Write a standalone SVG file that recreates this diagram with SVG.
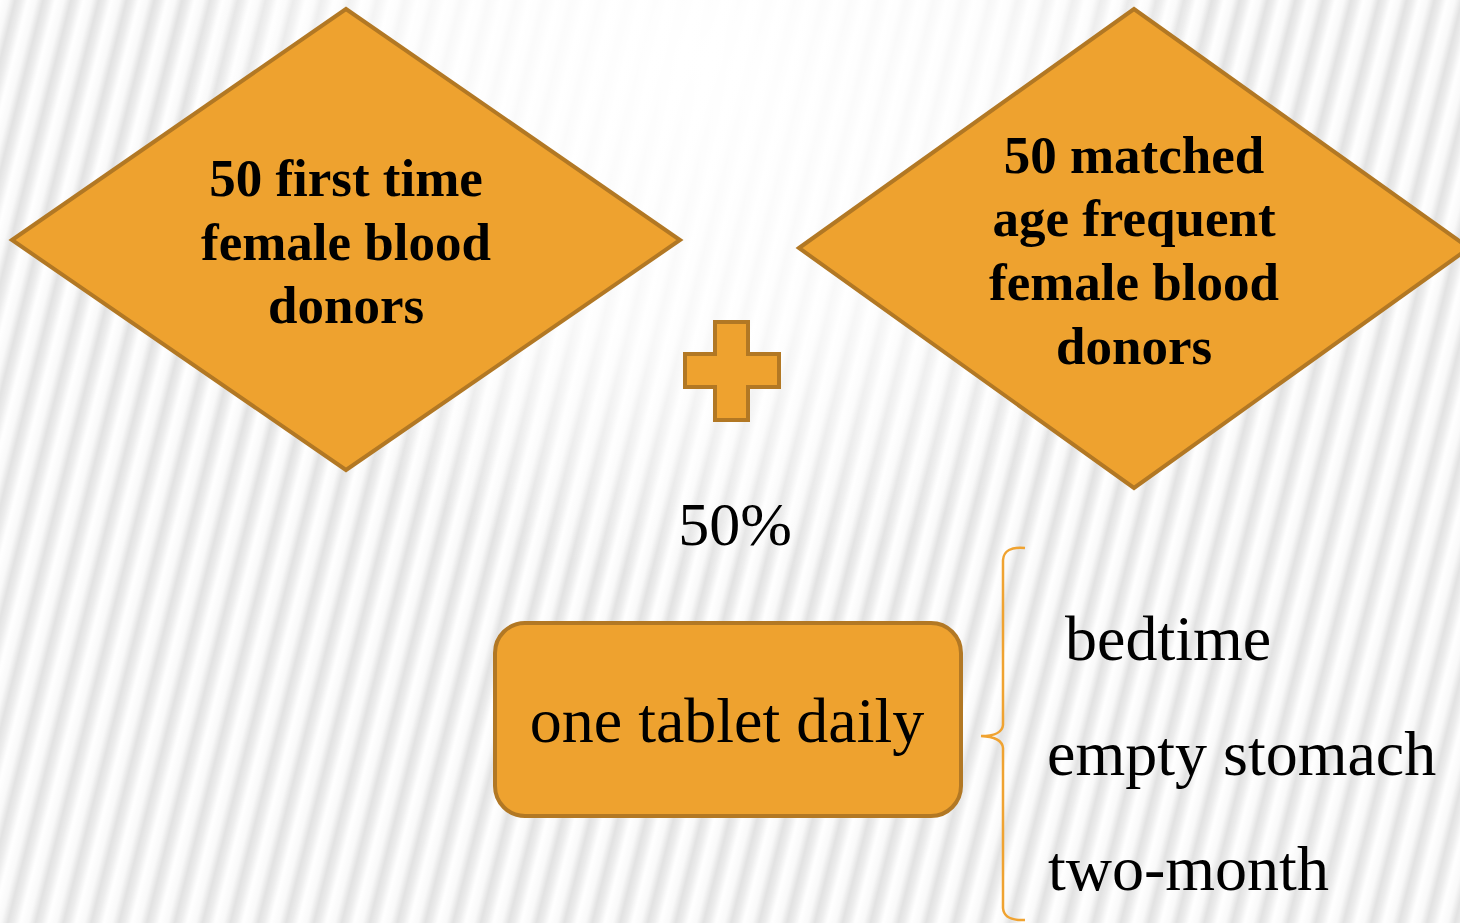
<svg xmlns="http://www.w3.org/2000/svg" width="1460" height="923" viewBox="0 0 1460 923">
<style>
.shape{fill:#EEA22F;stroke:#B27824;stroke-width:4}
.bold{font-family:"Liberation Serif","Times New Roman",serif;font-weight:bold;font-size:53px;fill:#000;text-anchor:middle}
.reg{font-family:"Liberation Serif","Times New Roman",serif;font-size:64px;fill:#000}
</style>
<defs>
<linearGradient id="stripeG" x1="0" y1="0" x2="1" y2="0">
<stop offset="0" stop-color="#fff"/>
<stop offset="0.3" stop-color="#f9f9f9"/>
<stop offset="0.55" stop-color="#e2e2e2"/>
<stop offset="0.75" stop-color="#ececec"/>
<stop offset="1" stop-color="#fff"/>
</linearGradient>
<pattern id="stripes" width="27" height="100" patternUnits="userSpaceOnUse" patternTransform="rotate(14)">
<rect width="27" height="100" fill="url(#stripeG)"/>
</pattern>
<radialGradient id="glow" cx="700" cy="60" r="520" gradientUnits="userSpaceOnUse">
<stop offset="0" stop-color="#fff" stop-opacity="1"/>
<stop offset="0.55" stop-color="#fff" stop-opacity="0.75"/>
<stop offset="1" stop-color="#fff" stop-opacity="0"/>
</radialGradient>
</defs>
<rect width="1460" height="923" fill="#fff"/>
<rect width="1460" height="923" fill="url(#stripes)"/>
<rect width="1460" height="923" fill="url(#glow)"/>

<g id="node-first-time">
<polygon class="shape" points="12,240 346,9 680,240 346,470"/>
<text class="bold" x="346" y="196">50 first time</text>
<text class="bold" x="346" y="260">female blood</text>
<text class="bold" x="346" y="323">donors</text>
</g>

<g id="node-frequent">
<polygon class="shape" points="799,248 1134,9 1469,248 1134,488"/>
<text class="bold" x="1134" y="173">50 matched</text>
<text class="bold" x="1134" y="236">age frequent</text>
<text class="bold" x="1134" y="300">female blood</text>
<text class="bold" x="1134" y="364">donors</text>
</g>

<g id="node-plus">
<polygon class="shape" points="715,322 748,322 748,354 779,354 779,387 748,387 748,420 715,420 715,387 685,387 685,354 715,354"/>
</g>

<g id="label-50pct">
<text class="reg" x="735" y="545" text-anchor="middle" style="font-size:62px">50%</text>
</g>

<g id="node-tablet">
<rect class="shape" x="495" y="623" width="466" height="193" rx="30" ry="30"/>
<text class="reg" x="727" y="742" text-anchor="middle">one tablet daily</text>
</g>

<g id="connectors">
<path d="M1025,548 Q1004,546 1003,560 L1003,725 Q1002,736 981,736 Q1002,737 1003,748 L1003,908 Q1004,921 1025,920" fill="none" stroke="#F0A331" stroke-width="2.5"/>
</g>

<g id="options">
<text class="reg" x="1065" y="660">bedtime</text>
<text class="reg" x="1047" y="775">empty stomach</text>
<text class="reg" x="1048" y="890">two-month</text>
</g>
</svg>
